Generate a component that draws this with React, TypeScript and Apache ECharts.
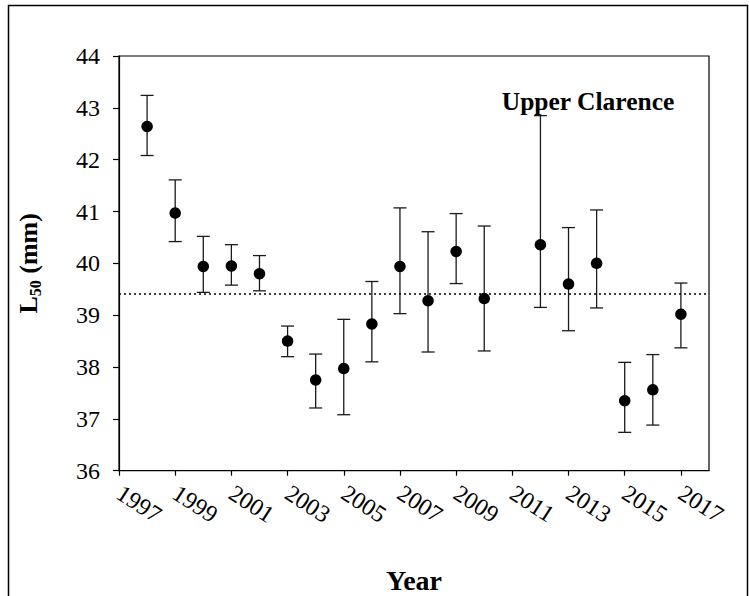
import React, { useEffect, useRef } from "react";
import * as echarts from "echarts";

// Axis categories (one per year, 1997–2018)
const axisYears = [
  "1997", "1998", "1999", "2000", "2001", "2002", "2003", "2004", "2005", "2006", "2007",
  "2008", "2009", "2010", "2011", "2012", "2013", "2014", "2015", "2016", "2017", "2018",
];

// Sampled years
const years = [
  "1998", "1999", "2000", "2001", "2002", "2003", "2004", "2005", "2006", "2007",
  "2008", "2009", "2010", "2012", "2013", "2014", "2015", "2016", "2017",
];

// L50 estimates (mm)
const l50 = [
  42.64, 40.97, 39.94, 39.95, 39.8, 38.5, 37.75, 37.97, 38.83, 39.94,
  39.28, 40.23, 39.32, 40.36, 39.6, 40.0, 37.35, 37.56, 39.02,
];

// Upper and lower confidence limits
const upper = [
  43.24, 41.61, 40.52, 40.36, 40.15, 38.79, 38.25, 38.92, 39.65, 41.07,
  40.61, 40.96, 40.72, 42.85, 40.69, 41.03, 38.09, 38.24, 39.62,
];
const lower = [
  42.08, 40.42, 39.44, 39.58, 39.47, 38.2, 37.21, 37.08, 38.1, 39.03,
  38.29, 39.61, 38.31, 39.15, 38.7, 39.14, 36.74, 36.88, 38.37,
];

const meanL50 = 39.41;
const yMin = 36;
const yMax = 44;
const yStep = 1;

const FONT = "'Liberation Serif', 'Times New Roman', serif";

export default function App() {
  const ref = useRef<HTMLDivElement>(null);

  useEffect(() => {
    if (!ref.current) return;
    const chart = echarts.init(ref.current, undefined, { renderer: "svg" });

    const errData = years.map((y, i) => [y, lower[i], upper[i]]);
    const ptData = years.map((y, i) => [y, l50[i]]);

    const option: any = {
      animation: false,
      backgroundColor: "#ffffff",
      grid: {
        left: 119,
        right: 40,
        top: 56,
        bottom: 125.3,
        show: true,
        borderColor: "#000",
        borderWidth: 1.2,
        containLabel: false,
      },
      xAxis: {
        type: "category",
        data: axisYears,
        boundaryGap: false,
        axisLine: { show: true, lineStyle: { color: "#000", width: 1.2 } },
        axisTick: {
          show: true,
          interval: 1,
          length: 5,
          inside: false,
          lineStyle: { color: "#000", width: 1.2 },
        },
        axisLabel: {
          interval: 1,
          rotate: -33,
          margin: 20,
          fontSize: 24,
          fontFamily: FONT,
          color: "#000",
        },
        splitLine: { show: false },
      },
      yAxis: {
        type: "value",
        min: yMin,
        max: yMax,
        interval: yStep,
        axisLine: { show: true, lineStyle: { color: "#000", width: 1.2 } },
        axisTick: {
          show: true,
          length: 6,
          inside: false,
          lineStyle: { color: "#000", width: 1.2 },
        },
        axisLabel: {
          margin: 19,
          fontSize: 24,
          fontFamily: FONT,
          color: "#000",
        },
        splitLine: { show: false },
        name: "{b|L}{s|50}{b| (mm)}",
        nameLocation: "middle",
        nameRotate: 90,
        nameGap: 76,
        nameTextStyle: {
          rich: {
            b: {
              fontSize: 26,
              fontWeight: "bold",
              fontFamily: FONT,
              color: "#000",
              lineHeight: 30,
            },
            s: {
              fontSize: 16,
              fontWeight: "bold",
              fontFamily: FONT,
              color: "#000",
              verticalAlign: "bottom",
              lineHeight: 18,
            },
          },
        },
      },
      graphic: [
        {
          type: "rect",
          shape: { x: 8.5, y: 5.5, width: 739, height: 620 },
          style: { fill: "none", stroke: "#000", lineWidth: 1.5 },
          silent: true,
        },
        {
          type: "text",
          x: 588,
          y: 101,
          style: {
            text: "Upper Clarence",
            fontSize: 25.5,
            fontWeight: "bold",
            fontFamily: FONT,
            fill: "#000",
            align: "center",
            verticalAlign: "middle",
          },
        },
        {
          type: "text",
          x: 414,
          y: 580,
          style: {
            text: "Year",
            fontSize: 28,
            fontWeight: "bold",
            fontFamily: FONT,
            fill: "#000",
            align: "center",
            verticalAlign: "middle",
          },
        },
      ],
      series: [
        {
          type: "custom",
          data: errData,
          encode: { x: 0, y: [1, 2] },
          z: 2,
          renderItem: (params: any, api: any) => {
            const x = api.value(0);
            const lo = api.coord([x, api.value(1)]);
            const hi = api.coord([x, api.value(2)]);
            const hw = 6.5;
            const style = { stroke: "#1a1a1a", lineWidth: 1.3 };
            return {
              type: "group",
              children: [
                { type: "line", shape: { x1: lo[0], y1: lo[1], x2: hi[0], y2: hi[1] }, style },
                { type: "line", shape: { x1: hi[0] - hw, y1: hi[1], x2: hi[0] + hw, y2: hi[1] }, style },
                { type: "line", shape: { x1: lo[0] - hw, y1: lo[1], x2: lo[0] + hw, y2: lo[1] }, style },
              ],
            };
          },
        },
        {
          type: "scatter",
          data: ptData,
          symbol: "circle",
          symbolSize: 11.5,
          itemStyle: { color: "#000", opacity: 1 },
          z: 3,
          markLine: {
            silent: true,
            symbol: "none",
            label: { show: false },
            lineStyle: { color: "#000", width: 1.5, type: [2, 3], opacity: 1 },
            data: [{ yAxis: meanL50 }],
          },
        },
      ],
    };

    chart.setOption(option);
    return () => chart.dispose();
  }, []);

  return (
    <div
      ref={ref}
      style={{ position: "absolute", left: 0, top: 0, width: 749, height: 596 }}
    />
  );
}
